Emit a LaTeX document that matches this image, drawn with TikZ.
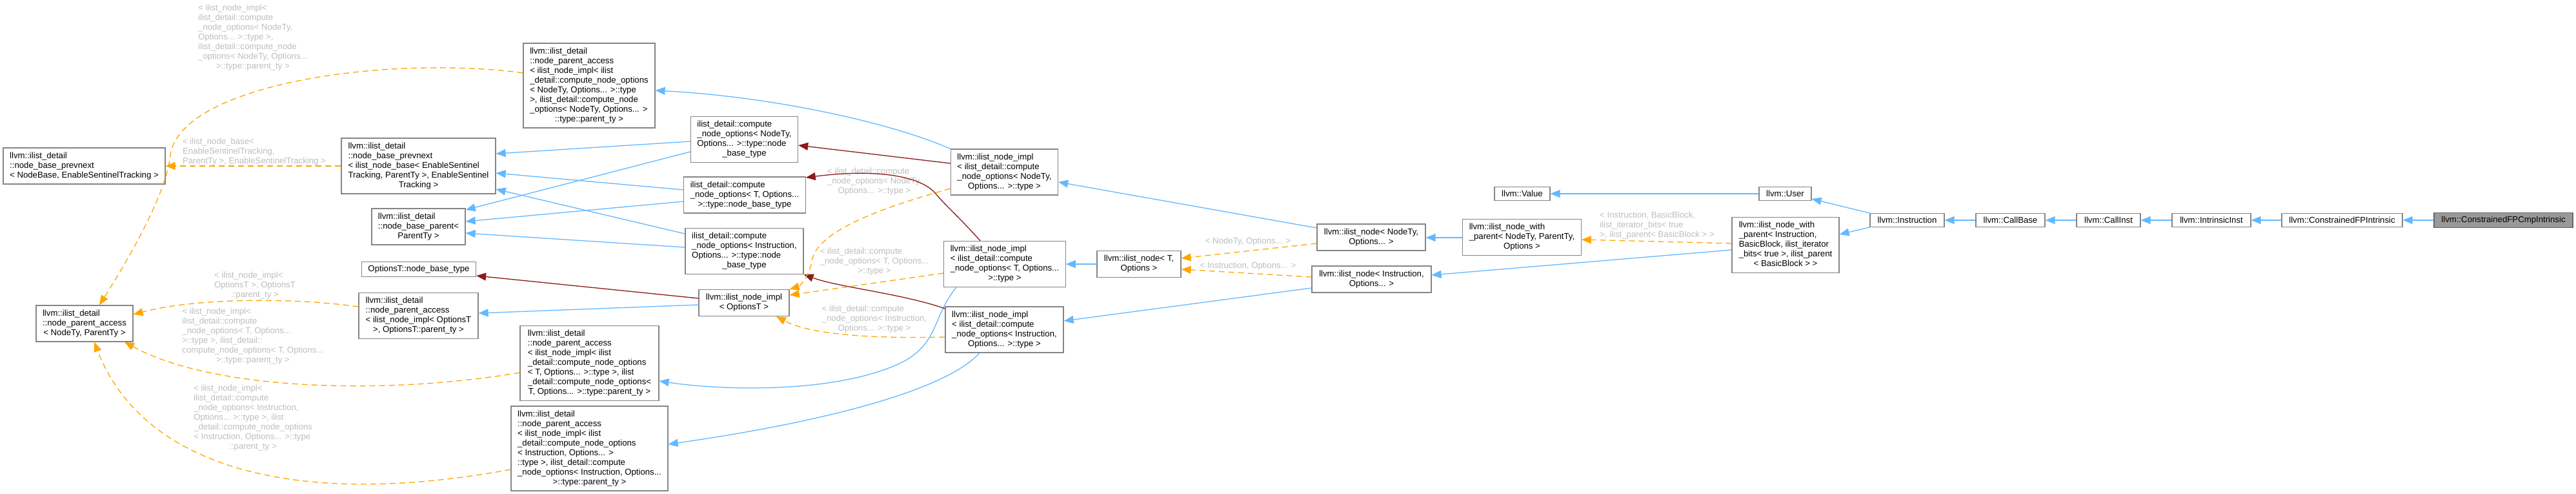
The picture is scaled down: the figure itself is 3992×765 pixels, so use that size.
\documentclass[tikz,border=0pt]{standalone}
\usepackage{fontspec}
\setmainfont{Liberation Sans}
\usetikzlibrary{arrows.meta}
\definecolor{eblue}{HTML}{63B8FF}
\definecolor{ered}{HTML}{8B1A1A}
\definecolor{eorange}{HTML}{FFA500}
\definecolor{lgray}{HTML}{BEBEBE}
\definecolor{bgray}{HTML}{858585}
\definecolor{hgray}{HTML}{666666}
\definecolor{hfill}{HTML}{999999}
\newcommand{\ml}[2]{\begin{tabular}{@{}l@{}}#1\\\multicolumn{1}{@{}c@{}}{#2}\end{tabular}}
\begin{document}
\begin{tikzpicture}[x=1pt,y=-1pt,
  font=\fontsize{13.2pt}{15pt}\selectfont,
  box/.style={draw=bgray, line width=1.2pt, fill=white, inner xsep=10pt, inner ysep=5.5pt},
  hbox/.style={box, draw=hgray, fill=hfill},
  elabel/.style={text=lgray, inner sep=0pt},
  edgebase/.style={line width=1.3pt, -{Triangle[length=15pt,width=12pt]}},
  blueedge/.style={edgebase, draw=eblue},
  rededge/.style={edgebase, draw=ered},
  orangeedge/.style={edgebase, draw=eorange, dash pattern=on 9pt off 6pt}]
\useasboundingbox (0,0) rectangle (3992,765);
\fill[white] (0,0) rectangle (3992,765);

% nodes
\node[box, minimum width=251pt] (A) at (130.5,257) {\ml{llvm::ilist\_detail\\::node\_base\_prevnext}{< NodeBase, EnableSentinelTracking >}};
\node[box, minimum width=150pt] (B) at (131,501) {\ml{llvm::ilist\_detail\\::node\_parent\_access}{< NodeTy, ParentTy >}};
\node[box, minimum width=204pt] (C) at (913,132.5) {\ml{llvm::ilist\_detail\\::node\_parent\_access\\< ilist\_node\_impl< ilist\\\_detail::compute\_node\_options\\< NodeTy, Options... >::type\\ >, ilist\_detail::compute\_node\\\_options< NodeTy, Options... >}{::type::parent\_ty >}};
\node[box, minimum width=239pt] (D) at (648.5,257) {\ml{llvm::ilist\_detail\\::node\_base\_prevnext\\< ilist\_node\_base< EnableSentinel\\Tracking, ParentTy >, EnableSentinel}{Tracking >}};
\node[box, minimum width=143pt] (E) at (648.5,351) {\ml{llvm::ilist\_detail\\::node\_base\_parent<}{ParentTy >}};
\node[box, minimum width=176pt] (F) at (649,417) {OptionsT::node\_base\_type};
\node[box, minimum width=185pt] (G) at (648.5,489) {\ml{llvm::ilist\_detail\\::node\_parent\_access\\< ilist\_node\_impl< OptionsT}{>, OptionsT::parent\_ty >}};
\node[box, minimum width=215pt] (H) at (913.5,562.5) {\ml{llvm::ilist\_detail\\::node\_parent\_access\\< ilist\_node\_impl< ilist\\\_detail::compute\_node\_options\\< T, Options... >::type >, ilist\\\_detail::compute\_node\_options<}{T, Options... >::type::parent\_ty >}};
\node[box, minimum width=243pt] (I) at (913.5,694.5) {\ml{llvm::ilist\_detail\\::node\_parent\_access\\< ilist\_node\_impl< ilist\\\_detail::compute\_node\_options\\< Instruction, Options... >\\::type >, ilist\_detail::compute\\\_node\_options< Instruction, Options...}{>::type::parent\_ty >}};
\node[box, minimum width=165pt] (J) at (1153.5,216) {\ml{ilist\_detail::compute\\\_node\_options< NodeTy,\\Options... >::type::node}{\_base\_type}};
\node[box, minimum width=188pt] (K) at (1154,302) {\ml{ilist\_detail::compute\\\_node\_options< T, Options...}{>::type::node\_base\_type}};
\node[box, minimum width=183pt] (L) at (1153.5,389) {\ml{ilist\_detail::compute\\\_node\_options< Instruction,\\Options... >::type::node}{\_base\_type}};
\node[box, minimum width=140pt] (M) at (1153,469) {\ml{llvm::ilist\_node\_impl}{< OptionsT >}};
\node[box, minimum width=165pt] (N) at (1556.5,266.5) {\ml{llvm::ilist\_node\_impl\\< ilist\_detail::compute\\\_node\_options< NodeTy,}{Options... >::type >}};
\node[box, minimum width=188pt] (O) at (1557,409) {\ml{llvm::ilist\_node\_impl\\< ilist\_detail::compute\\\_node\_options< T, Options...}{>::type >}};
\node[box, minimum width=183pt] (P) at (1556.5,510.5) {\ml{llvm::ilist\_node\_impl\\< ilist\_detail::compute\\\_node\_options< Instruction,}{Options... >::type >}};
\node[box, minimum width=130pt] (Q) at (1765,409) {\ml{llvm::ilist\_node< T,}{Options >}};
\node[box, minimum width=168pt] (R) at (2125,367.5) {\ml{llvm::ilist\_node< NodeTy,}{Options... >}};
\node[box, minimum width=185pt] (S) at (2125.5,432.5) {\ml{llvm::ilist\_node< Instruction,}{Options... >}};
\node[box, minimum width=183pt] (T) at (2358.5,367.5) {\ml{llvm::ilist\_node\_with\\\_parent< NodeTy, ParentTy,}{Options >}};
\node[box, minimum width=86pt] (Value) at (2359,300) {llvm::Value};
\node[box, minimum width=81pt] (User) at (2766.5,300) {llvm::User};
\node[box, minimum width=166pt] (V) at (2767,379.5) {\ml{llvm::ilist\_node\_with\\\_parent< Instruction,\\BasicBlock, ilist\_iterator\\\_bits< true >, ilist\_parent}{< BasicBlock > >}};
\node[box, minimum width=115pt] (Instr) at (2955.5,341) {llvm::Instruction};
\node[box, minimum width=107pt] (CallBase) at (3115.5,341) {llvm::CallBase};
\node[box, minimum width=99pt] (CallInst) at (3267.5,341) {llvm::CallInst};
\node[box, minimum width=122pt] (IntrInst) at (3427,341) {llvm::IntrinsicInst};
\node[box, minimum width=187pt] (CFPI) at (3629.5,341) {llvm::ConstrainedFPIntrinsic};
\node[hbox, minimum width=215pt] (CFPCmp) at (3879.5,341) {llvm::ConstrainedFPCmpIntrinsic};

% edge labels
\node[elabel] (lCB) at (392,59) {\ml{< ilist\_node\_impl<\\ilist\_detail::compute\\\_node\_options< NodeTy,\\Options... >::type >,\\ilist\_detail::compute\_node\\\_options< NodeTy, Options...}{>::type::parent\_ty >}};
\node[elabel] (lDA) at (394,235) {\ml{< ilist\_node\_base<\\EnableSentinelTracking,}{ParentTy >, EnableSentinelTracking >}};
\node[elabel] (lGB) at (395,442) {\ml{< ilist\_node\_impl<\\OptionsT >, OptionsT}{::parent\_ty >}};
\node[elabel] (lHB) at (392,520.5) {\ml{< ilist\_node\_impl<\\ilist\_detail::compute\\\_node\_options< T, Options...\\>::type >, ilist\_detail::\\compute\_node\_options< T, Options...}{>::type::parent\_ty >}};
\node[elabel] (lIB) at (392,647) {\ml{< ilist\_node\_impl<\\ilist\_detail::compute\\\_node\_options< Instruction,\\Options... >::type >, ilist\\\_detail::compute\_node\_options\\< Instruction, Options... >::type}{::parent\_ty >}};
\node[elabel] (lNM) at (1355,281) {\ml{< ilist\_detail::compute\\\_node\_options< NodeTy,}{Options... >::type >}};
\node[elabel] (lOM) at (1355,405) {\ml{< ilist\_detail::compute\\\_node\_options< T, Options...}{>::type >}};
\node[elabel] (lPM) at (1355,494) {\ml{< ilist\_detail::compute\\\_node\_options< Instruction,}{Options... >::type >}};
\node[elabel] (lRQ) at (1934,374) {< NodeTy, Options... >};
\node[elabel] (lSQ) at (1934,412) {< Instruction, Options... >};
\node[elabel] (lVT) at (2568,349) {\ml{< Instruction, BasicBlock,\\ilist\_iterator\_bits< true}{>, ilist\_parent< BasicBlock > >}};

% blue (public inheritance)
\draw[blueedge] (N.north west) .. controls (1380,190) and (1200,150) .. (C.east |- 0,140);
\draw[blueedge] (J.west |- 0,219) -- (D.east |- 0,238);
\draw[blueedge] (J.west |- 0,235) -- (E.east |- 0,325);
\draw[blueedge] (K.west |- 0,294) -- (D.east |- 0,268);
\draw[blueedge] (K.west |- 0,312) -- (E.east |- 0,343);
\draw[blueedge] (L.west |- 0,362) -- (D.east |- 0,293);
\draw[blueedge] (L.west |- 0,383) -- (E.east |- 0,361);
\draw[blueedge] (M.west |- 0,472) -- (G.east |- 0,485);
\draw[blueedge] (O.south -| 1482,0) .. controls (1445,490) and (1455,530) .. (1400,560) .. controls (1300,610) and (1120,605) .. (H.east |- 0,590);
\draw[blueedge] (P.south -| 1518,0) .. controls (1470,600) and (1300,650) .. (I.east |- 0,688);
\draw[blueedge] (Q.west) -- (O.east |- Q.west);
\draw[blueedge] (R.west |- 0,353) -- (N.east |- 0,282);
\draw[blueedge] (S.west |- 0,446) -- (P.east |- 0,497);
\draw[blueedge] (T.west |- 0,368) -- (R.east |- 0,368);
\draw[blueedge] (V.west |- 0,387) -- (S.east |- 0,426);
\draw[blueedge] (User.west) -- (Value.east);
\draw[blueedge] (Instr.north west) -- (User.east |- 0,308);
\draw[blueedge] (Instr.south west) -- (V.east |- 0,363);
\draw[blueedge] (CallBase) -- (Instr);
\draw[blueedge] (CallInst) -- (CallBase);
\draw[blueedge] (IntrInst) -- (CallInst);
\draw[blueedge] (CFPI) -- (IntrInst);
\draw[blueedge] (CFPCmp) -- (CFPI);

% dark red (private inheritance)
\draw[rededge] (M.west |- 0,462) -- (F.east |- 0,427);
\draw[rededge] (N.west |- 0,253) -- (J.east |- 0,225);
\draw[rededge] (O.north -| 1519,0) .. controls (1490,340) and (1465,318) .. (1450,300) .. controls (1425,270) and (1350,262) .. (K.east |- 0,275);
\draw[rededge] (P.west |- 0,478) .. controls (1400,455) and (1300,445) .. (L.south east);

% orange dashed (template instances)
\draw[orangeedge] (C.west |- 0,113) .. controls (600,85) and (280,130) .. (264,240) .. controls (258,300) and (200,400) .. (B.north -| 154,0);
\draw[orangeedge] (D.west |- 0,257) -- (A.east |- 0,257);
\draw[orangeedge] (G.west |- 0,475) .. controls (450,460) and (300,462) .. (B.east |- 0,487);
\draw[orangeedge] (H.west |- 0,577) .. controls (600,612) and (330,605) .. (B.south -| 193,0);
\draw[orangeedge] (I.west |- 0,727) .. controls (450,790) and (220,720) .. (B.south -| 146,0);
\draw[orangeedge] (N.west |- 0,292) .. controls (1380,318) and (1265,355) .. (1258,405) .. controls (1255,425) and (1240,443) .. (M.north east);
\draw[orangeedge] (O.west |- 0,423) -- (M.east |- 0,457);
\draw[orangeedge] (P.west |- 0,522) .. controls (1330,525) and (1250,515) .. (M.south -| 1203,0);
\draw[orangeedge] (R.west |- 0,377) -- (Q.east |- 0,400);
\draw[orangeedge] (S.west |- 0,429) -- (Q.east |- 0,417);
\draw[orangeedge] (V.west |- 0,377) -- (T.east |- 0,371);
\end{tikzpicture}
\end{document}
